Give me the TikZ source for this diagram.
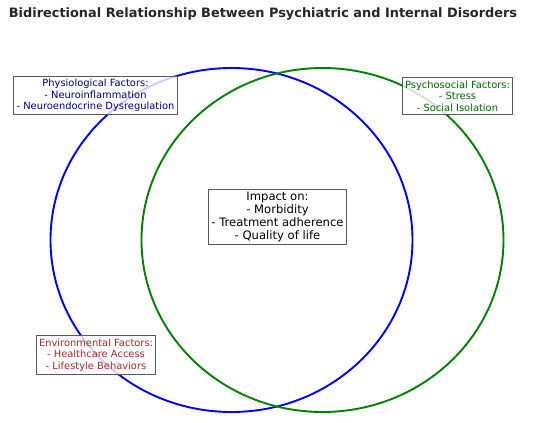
\documentclass[tikz,border=0pt]{standalone}
\usepackage{fontspec}
\setmainfont{DejaVu Sans}
\definecolor{physblue}{RGB}{0,0,139}
\definecolor{psygreen}{RGB}{0,100,0}
\definecolor{circgreen}{RGB}{0,128,0}
\definecolor{envbrown}{RGB}{165,42,42}
\definecolor{titlegray}{RGB}{38,38,38}
\begin{document}
\begin{tikzpicture}[x=1pt,y=-1pt,
  factorbox/.style={draw=black!65,line width=0.8pt,fill=white,fill opacity=0.8,text opacity=1,
    align=center,inner xsep=2.8pt,inner ysep=3pt,font=\fontsize{9.9}{11.6}\selectfont},
  impactbox/.style={factorbox,inner xsep=3pt,font=\fontsize{11.6}{12.9}\selectfont}]
\useasboundingbox (0,0) rectangle (550,423);
\node[font=\bfseries\fontsize{12.9}{15}\selectfont,text=titlegray] (title) at (263,14)
  {Bidirectional Relationship Between Psychiatric and Internal Disorders};
% the two circles
\draw[blue,line width=1.9pt] (231.5,240) ellipse [x radius=181pt,y radius=172pt];
\draw[circgreen,line width=1.9pt] (322.5,240) ellipse [x radius=181pt,y radius=172pt];
% factor boxes
\node[factorbox,text=physblue] (physio) at (95.5,95.5)
  {Physiological Factors:\\- Neuroinflammation\\- Neuroendocrine Dysregulation};
\node[factorbox,text=psygreen] (psycho) at (457.5,96)
  {Psychosocial Factors:\\- Stress\\- Social Isolation};
\node[factorbox,text=envbrown] (envir) at (96,355)
  {Environmental Factors:\\- Healthcare Access\\- Lifestyle Behaviors};
\node[impactbox] (impact) at (277.5,217)
  {Impact on:\\- Morbidity\\- Treatment adherence\\- Quality of life};
\end{tikzpicture}
\end{document}
